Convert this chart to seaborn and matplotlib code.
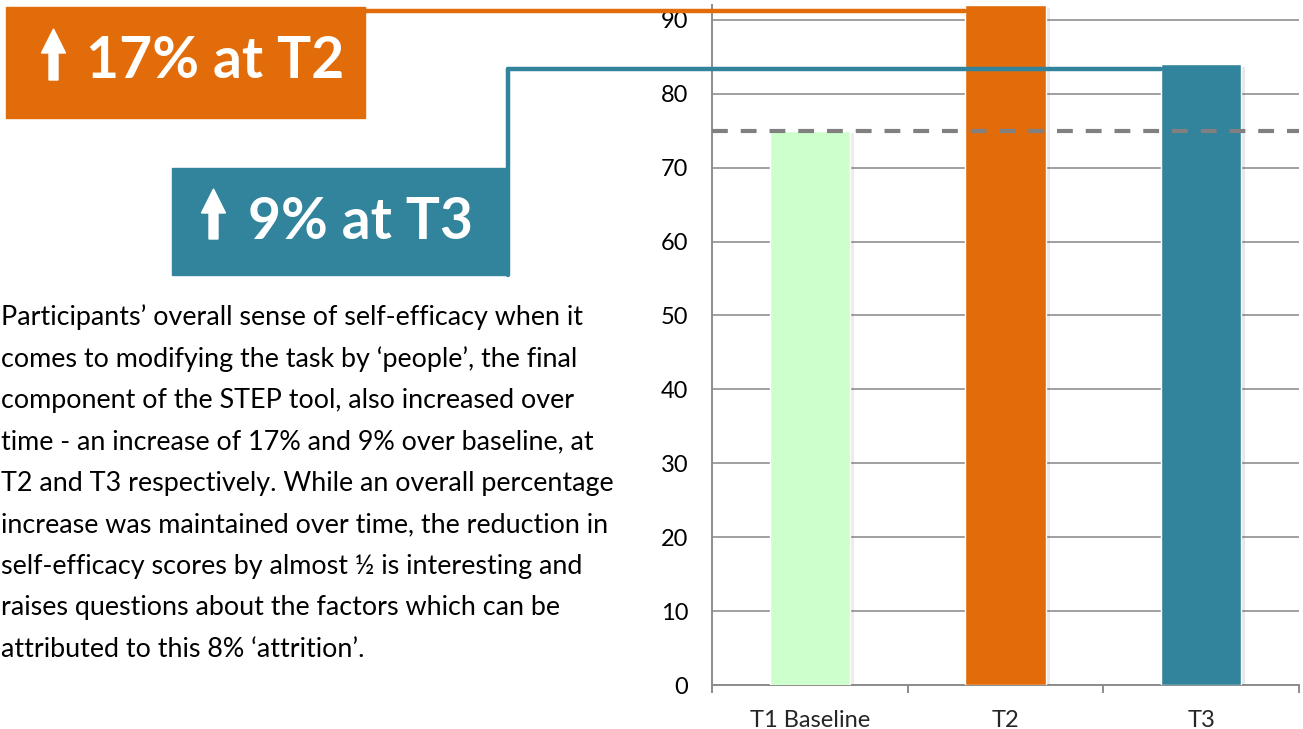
import matplotlib
matplotlib.use('Agg')
import matplotlib.pyplot as plt
import matplotlib.patheffects as pe
from matplotlib.patches import Rectangle, Polygon
from matplotlib.lines import Line2D
import seaborn as sns

# data
times = ['T1 Baseline', 'T2', 'T3']
scores = [75, 92, 84]
baseline = 75
bar_colors = ['#CCFFCC', '#E36C0A', '#31849B']
yticks = [0, 10, 20, 30, 40, 50, 60, 70, 80, 90]

para = [
    'Participants\u2019 overall sense of self-efficacy when it',
    'comes to modifying the task by \u2018people\u2019, the final',
    'component of the STEP tool, also increased over',
    'time - an increase of 17% and 9% over baseline, at',
    'T2 and T3 respectively. While an overall percentage',
    'increase was maintained over time, the reduction in',
    'self-efficacy scores by almost \u00bd is interesting and',
    'raises questions about the factors which can be',
    'attributed to this 8% \u2018attrition\u2019.',
]

sns.set_style('white')
plt.rcParams['font.family'] = ['Lato', 'DejaVu Sans']

W, H = 1303, 729
fig = plt.figure(figsize=(W / 100, H / 100), dpi=100)

def fp(x, y):
    # pixel position (top-left origin) -> figure fraction
    return x / W, 1 - y / H

ax = fig.add_axes([712 / W, (H - 685) / H, 587 / W, 680 / H])
sns.barplot(x=times, y=scores, hue=times, palette=bar_colors, legend=False,
            width=0.41, saturation=1, ax=ax, zorder=3)
for p in ax.patches:
    p.set_path_effects([pe.SimplePatchShadow(offset=(3, -2), alpha=0.1), pe.Normal()])

ax.set_ylim(0, 92)
ax.set_xlim(-0.5, 2.5)
ax.set_yticks(yticks)
ax.yaxis.grid(True, color='#a0a0a0', lw=1.4, zorder=0)
ax.set_axisbelow(True)
for s in ['top', 'right']:
    ax.spines[s].set_visible(False)
for s in ['left', 'bottom']:
    ax.spines[s].set_color('#8c8c8c')
    ax.spines[s].set_linewidth(1.4)
ax.tick_params(axis='y', length=0, pad=17, labelsize=17, labelcolor='black')
ax.tick_params(axis='x', which='major', length=0, pad=18, labelsize=17)
ax.set_xticks([-0.5, 0.5, 1.5, 2.5], minor=True)
ax.tick_params(axis='x', which='minor', bottom=True, length=6, width=1.4, color='#8c8c8c')
ax.set_xlabel('')
ax.set_ylabel('')

ax.axhline(baseline, color='#808080', lw=3, ls=(0, (3.8, 3.1)), zorder=5)

# callout boxes
to_fig = ax.transData + fig.transFigure.inverted()
bars = ax.patches

def connector(x0, ybar, bar, color, down_to=None):
    xe, ye = to_fig.transform((bar.get_x(), ybar))
    xs = x0 / W
    fig.add_artist(Line2D([xs, xe], [ye, ye], color=color, lw=3.2, zorder=6))
    if down_to is not None:
        fig.add_artist(Line2D([xs, xs], [ye, 1 - down_to / H], color=color, lw=3.2, zorder=6))

def up_arrow(cx, top, bottom):
    # white arrow drawn in pixel units
    pts = [(cx, top), (cx + 12, top + 24), (cx + 4.5, top + 24), (cx + 4.5, bottom),
           (cx - 4.5, bottom), (cx - 4.5, top + 24), (cx - 12, top + 24)]
    fig.add_artist(Polygon([fp(x, y) for x, y in pts], closed=True,
                           transform=fig.transFigure, color='white', zorder=7))

connector(365, 91.2, bars[1], '#E36C0A')
connector(508, 83.4, bars[2], '#31849B', down_to=275)

x0, y0 = fp(6, 118)
fig.add_artist(Rectangle((x0, y0), 359 / W, 111 / H, transform=fig.transFigure,
                         color='#E36C0A', zorder=4))
x0, y0 = fp(172, 275)
fig.add_artist(Rectangle((x0, y0), 335 / W, 107 / H, transform=fig.transFigure,
                         color='#31849B', zorder=4))

up_arrow(53.5, 29, 80)
up_arrow(213.5, 189, 239)
fig.text(*fp(86, 78), '17% at T2', color='white', fontsize=41,
         fontweight='bold', va='baseline', ha='left', zorder=7)
fig.text(*fp(248, 239), '9% at T3', color='white', fontsize=41,
         fontweight='bold', va='baseline', ha='left', zorder=7)

for i, line in enumerate(para):
    fig.text(*fp(1, 325 + i * 41.5), line, fontsize=19.4, color='black',
             va='baseline', ha='left')

fig.savefig('out.png', dpi=100)
